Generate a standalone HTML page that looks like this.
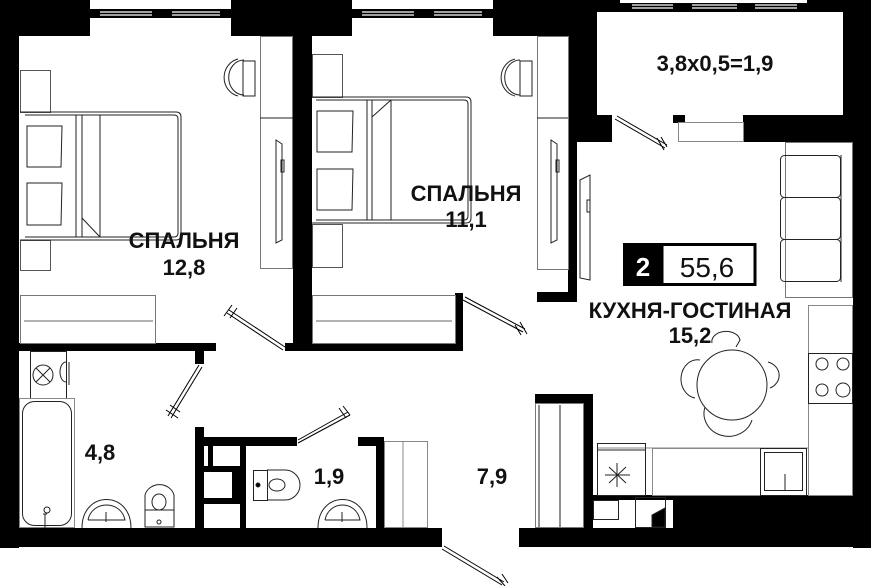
<!DOCTYPE html>
<html><head><meta charset="utf-8"><style>
html,body{margin:0;padding:0;background:#fff;}
svg{display:block;}
text{font-family:"Liberation Sans",sans-serif;font-weight:bold;fill:#111;}
</style></head><body>
<svg width="871" height="586" viewBox="0 0 871 586" xmlns="http://www.w3.org/2000/svg">
<g fill="#000">
<rect x="0" y="0" width="90" height="36"/>
<rect x="90" y="9" width="141" height="9"/>
<rect x="231" y="0" width="121" height="36"/>
<rect x="352" y="9" width="141" height="9"/>
<rect x="493" y="0" width="104" height="36"/>
<rect x="568" y="0" width="29" height="115"/>
<rect x="597" y="0" width="23" height="12"/>
<rect x="807" y="0" width="64" height="12"/>
<rect x="620" y="3" width="187" height="9"/>
<rect x="843" y="0" width="28" height="142"/>
<rect x="568" y="115" width="44" height="27"/>
<rect x="673" y="115" width="12" height="8"/>
<rect x="743" y="115" width="110" height="27"/>
<rect x="853" y="115" width="18" height="433"/>
<rect x="0" y="0" width="19" height="548"/>
<rect x="293" y="36" width="19" height="315"/>
<rect x="568" y="36" width="9" height="264"/>
<rect x="537" y="292" width="40" height="10"/>
<rect x="19" y="343" width="197" height="8"/>
<rect x="195" y="351" width="9" height="13"/>
<rect x="285" y="343" width="178" height="8"/>
<rect x="455" y="293" width="8" height="58"/>
<rect x="195" y="427" width="9" height="101"/>
<rect x="195" y="437" width="102" height="9"/>
<rect x="358" y="437" width="26" height="9"/>
<rect x="376" y="437" width="8" height="91"/>
<rect x="208" y="446" width="5" height="22"/>
<rect x="204" y="466" width="42" height="6"/>
<rect x="240" y="446" width="6" height="82"/>
<rect x="232" y="472" width="8" height="26"/>
<rect x="204" y="498" width="36" height="6"/>
<rect x="0" y="528" width="442" height="19"/>
<rect x="519" y="528" width="352" height="19"/>
<rect x="673" y="495" width="198" height="52"/>
<rect x="535" y="394" width="58" height="9"/>
<rect x="583" y="394" width="10" height="134"/>
<rect x="593" y="495" width="80" height="5"/>
</g>
<g stroke="#fff" stroke-width="1.2">
<line x1="100" y1="12" x2="152" y2="12"/><line x1="100" y1="15" x2="152" y2="15"/>
<line x1="172" y1="12" x2="220" y2="12"/><line x1="172" y1="15" x2="220" y2="15"/>
<line x1="362" y1="12" x2="414" y2="12"/><line x1="362" y1="15" x2="414" y2="15"/>
<line x1="434" y1="12" x2="482" y2="12"/><line x1="434" y1="15" x2="482" y2="15"/>
<line x1="632" y1="5" x2="673" y2="5"/><line x1="632" y1="8" x2="673" y2="8"/>
<line x1="692" y1="5" x2="737" y2="5"/><line x1="692" y1="8" x2="737" y2="8"/>
<line x1="755" y1="5" x2="797" y2="5"/><line x1="755" y1="8" x2="797" y2="8"/>
</g>
<rect x="685" y="116" width="53" height="6" fill="#fff"/>
<rect x="678.5" y="122.5" width="65" height="19" fill="#fff" stroke="#888"/>
<g fill="none" stroke="#222" stroke-width="1">
<rect x="260.5" y="36.5" width="32" height="232" stroke="#777"/>
<line x1="260" y1="118" x2="293" y2="118"/>
<path d="M276 140 L282 144 L282 240 L276 243 Z"/>
<rect x="281" y="160" width="3" height="12"/>
<path d="M238 59 A18 19 0 0 0 238 96 M244 60 A14 16 0 0 0 244 95"/>
<rect x="243" y="61" width="12" height="35"/>
<rect x="20.5" y="70.5" width="30" height="42" stroke="#555"/>
<rect x="20.5" y="240.5" width="30" height="30" stroke="#555"/>
<path d="M20 112 L176 112 Q181 112 181 117 L181 235 Q181 240 176 240 L20 240" />
<path d="M25 115 L174 115 Q178 115 178 119 L178 233 Q178 237 174 237 L25 237"/>
<line x1="76" y1="115" x2="76" y2="237"/><line x1="82" y1="115" x2="82" y2="237"/>
<line x1="100" y1="115" x2="100" y2="237"/><line x1="82" y1="218" x2="100" y2="237"/>
<path d="M27 126 L62 126 L61 167 L27 167 Z"/>
<path d="M27 183 L62 183 L61 225 L27 225 Z"/>
<rect x="20.5" y="295.5" width="135" height="48" stroke="#777"/>
<line x1="24" y1="321" x2="153" y2="321" stroke="#666"/>
<rect x="537.5" y="36.5" width="31" height="233" stroke="#777"/>
<line x1="537" y1="118" x2="568" y2="118"/>
<path d="M551 140 L557 144 L557 240 L551 243 Z"/>
<rect x="556" y="160" width="3" height="12"/>
<path d="M515 59 A18 19 0 0 0 515 96 M520 60 A14 16 0 0 0 520 95"/>
<rect x="520" y="61" width="12" height="35"/>
<rect x="312.5" y="54.5" width="30" height="43" stroke="#555"/>
<rect x="312.5" y="224.5" width="30" height="43" stroke="#555"/>
<path d="M312 97 L466 97 Q471 97 471 102 L471 218 Q471 223 466 223 L312 223"/>
<path d="M316 100 L464 100 Q468 100 468 104 L468 216 Q468 220 464 220 L316 220"/>
<line x1="367" y1="100" x2="367" y2="220"/><line x1="372" y1="100" x2="372" y2="220"/>
<line x1="391" y1="100" x2="391" y2="220"/><line x1="372" y1="117" x2="391" y2="100"/>
<path d="M317 111 L353 111 L352 152 L317 152 Z"/>
<path d="M317 169 L353 169 L352 210 L317 210 Z"/>
<rect x="312.5" y="295.5" width="143" height="48" stroke="#777"/>
<line x1="316" y1="321" x2="452" y2="321" stroke="#666"/>
<path d="M580 180 L590 175 L590 280 L580 278 Z"/>
<rect x="587" y="200" width="3" height="12"/>
<rect x="785.5" y="142.5" width="67" height="155" stroke="#777"/>
<rect x="780.5" y="155.5" width="60" height="42" rx="4"/>
<rect x="780.5" y="197.5" width="60" height="42" rx="4"/>
<rect x="780.5" y="239.5" width="60" height="42" rx="4"/>
<line x1="841" y1="155" x2="841" y2="282"/>
<rect x="808.5" y="305.5" width="44" height="190" stroke="#888"/>
<rect x="808.5" y="353.5" width="44" height="50"/>
<circle cx="822" cy="364" r="6"/><circle cx="843" cy="364" r="6"/>
<circle cx="822" cy="390" r="6"/><circle cx="843" cy="390" r="7"/>
<line x1="597" y1="448" x2="808" y2="448" stroke="#888"/>
<rect x="652.5" y="448.5" width="108" height="47" stroke="#888"/>
<rect x="760.5" y="448.5" width="46" height="47"/>
<rect x="764.5" y="452.5" width="38" height="38"/>
<line x1="785" y1="474" x2="785" y2="490"/>
<rect x="597.5" y="443.5" width="48" height="52"/>
<line x1="597" y1="450" x2="645" y2="450"/>
<g stroke-width="1"><line x1="605" y1="475" x2="630" y2="475"/><line x1="617" y1="463" x2="617" y2="487"/><line x1="609" y1="467" x2="626" y2="483"/><line x1="626" y1="467" x2="609" y2="483"/></g>
<circle cx="732" cy="385" r="35"/>
<path d="M712 343 A14 10 0 0 1 740 340 L736 347 M768 362 A16 14 0 0 1 770 388"/>
<path d="M700 360 A12 14 0 0 0 695 398 M705 407 A15 14 0 0 0 752 420 "/>
<rect x="593.5" y="500.5" width="25" height="19"/>
<rect x="635.5" y="497.5" width="30" height="30"/>
<path d="M652 527 L652 515 L665 508 L665 527Z" fill="#000"/>
<rect x="535.5" y="403.5" width="48" height="124" stroke="#777"/>
<line x1="560" y1="405" x2="560" y2="527"/><line x1="539" y1="405" x2="539" y2="527"/>
<rect x="30.5" y="351.5" width="36" height="47"/>
<circle cx="43" cy="375" r="10"/><path d="M36 368 L50 382 M50 368 L36 382"/>
<path d="M66 362 A6 10 0 0 0 66 382 M69 362 L69 385"/>
<rect x="19.5" y="398.5" width="55" height="129" stroke="#888"/>
<rect x="22.5" y="401.5" width="49" height="124" rx="12"/>
<path d="M45 528 L45 514 M43 514 L47 514"/><circle cx="47" cy="510" r="3"/>
<path d="M82 528 C82 490 131 490 131 528 M88 520 C92 500 121 500 125 520 L88 520"/>
<path d="M106 512 L106 522"/>
<path d="M145 527 L145 495 A15 14 0 0 1 174 495 L174 527 Z M145 510 L174 510"/>
<ellipse cx="159" cy="502" rx="7" ry="8"/><circle cx="159" cy="522" r="2"/>
<rect x="253.5" y="470.5" width="14" height="30"/>
<path d="M267 470 L285 470 A15 15 0 0 1 285 500 L267 500"/>
<ellipse cx="277" cy="485" rx="8" ry="6"/><circle cx="258" cy="485" r="2" fill="#000"/>
<path d="M318 528 C318 490 367 490 367 528 M325 520 C329 500 356 500 360 520 L325 520"/><path d="M342 512 L342 522"/>
<rect x="384.5" y="441.5" width="43" height="86" stroke="#888"/>
<line x1="403" y1="442" x2="403" y2="527" stroke="#888"/>
</g>
<g fill="none" stroke="#000" stroke-width="1">
<path d="M283 350 L227 313 M285 347 L229 310 M224 316 L232 305 M230 318 L237 308"/>
<path d="M199 365 L168 416 M202 367 L171 418 M166 410 L178 418 M170 405 L180 412"/>
<path d="M465 297 L525 329 M463 300 L523 332 M520 322 L527 334 M515 325 L521 335"/>
<path d="M298 440 L348 412 M298 443 L350 415 M339 408 L346 418 M343 406 L350 415"/>
<path d="M444 546 L504 582 M442 549 L502 585 M497 577 L505 586 M502 574 L508 583"/>
<path d="M617 116 L667 145 M615 119 L665 148 M657 138 L664 150 M661 137 L667 147"/>
</g>
<g font-size="22" text-anchor="middle">
<text x="184" y="248">СПАЛЬНЯ</text><text x="184" y="275">12,8</text>
<text x="466" y="201">СПАЛЬНЯ</text><text x="466" y="227">11,1</text>
<text x="715" y="71">3,8x0,5=1,9</text>
<text x="690" y="318">КУХНЯ-ГОСТИНАЯ</text><text x="690" y="343">15,2</text>
<text x="100" y="460">4,8</text>
<text x="329" y="484">1,9</text>
<text x="492" y="484">7,9</text>
</g>
<rect x="623" y="243" width="40" height="43" fill="#000"/>
<rect x="662" y="244.5" width="93" height="40" fill="#fff" stroke="#000" stroke-width="3"/>
<text x="643" y="276" font-size="26" text-anchor="middle" style="fill:#fff">2</text>
<text x="707" y="277" font-size="28" text-anchor="middle" style="font-weight:normal">55,6</text>
</svg>
</body></html>
